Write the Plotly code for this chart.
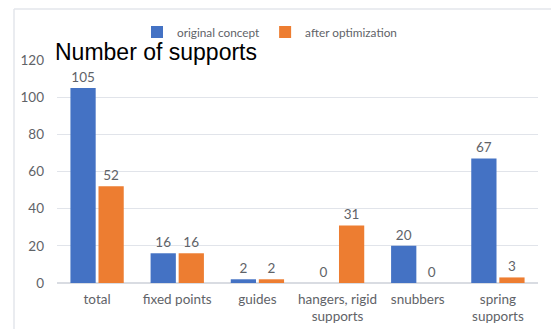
import plotly.graph_objects as go

categories = ["total", "fixed points", "guides", "hangers, rigid<br>supports", "snubbers", "spring<br>supports"]
original_concept = [105, 16, 2, 0, 20, 67]
after_optimization = [52, 16, 2, 31, 0, 3]
y_ticks = [0, 20, 40, 60, 80, 100, 120]

W, H = 551, 329
ML, MR, MT, MB = 57, 13, 60, 46
pw, ph = W - ML - MR, H - MT - MB

def px_x(x):
    return (x - ML) / pw

def px_y(y):
    return 1 - (y - MT) / ph

gray = "#5f6368"
font_main = "Lato"

fig = go.Figure()
fig.add_trace(go.Bar(
    name="original concept", x=categories, y=original_concept,
    marker=dict(color="#4472C4", line=dict(width=0)),
    text=original_concept, textposition="outside", cliponaxis=False,
    textfont=dict(family=font_main, size=13.5, color=gray),
))
fig.add_trace(go.Bar(
    name="after optimization", x=categories, y=after_optimization,
    marker=dict(color="#ED7D31", line=dict(width=0)),
    text=after_optimization, textposition="outside", cliponaxis=False,
    textfont=dict(family=font_main, size=13.5, color=gray),
))

fig.update_layout(
    width=W, height=H,
    margin=dict(l=ML, r=MR, t=MT, b=MB, autoexpand=False),
    paper_bgcolor="white", plot_bgcolor="white",
    barmode="group", bargap=0.3, bargroupgap=0.1,
    showlegend=True,
    legend=dict(orientation="h", x=px_x(137), xanchor="left",
                y=px_y(32), yanchor="middle",
                font=dict(family=font_main, size=11.8, color=gray),
                itemwidth=30, tracegroupgap=0, bgcolor="rgba(0,0,0,0)"),
    uniformtext=dict(mode=False),
)
fig.update_xaxes(showgrid=False, showline=False, ticks="", automargin=False,
                 ticklabelstandoff=6,
                 tickfont=dict(family=font_main, size=13.5, color=gray))
fig.update_yaxes(range=[0, 120], tickvals=y_ticks, showgrid=True, automargin=False,
                 gridcolor="#e1e4ea", gridwidth=1, zeroline=True,
                 zerolinecolor="#d9dce2", zerolinewidth=1.5, showline=False,
                 ticks="", ticklabelstandoff=12,
                 tickfont=dict(family=font_main, size=13.5, color=gray))

# chart frame edges
frame = "#e3e6eb"
fig.add_shape(type="line", xref="paper", yref="paper",
              x0=px_x(14), x1=px_x(14), y0=px_y(9), y1=px_y(H + 5),
              line=dict(color=frame, width=1.5))
fig.add_shape(type="line", xref="paper", yref="paper",
              x0=px_x(14), x1=px_x(W + 5), y0=px_y(9), y1=px_y(9),
              line=dict(color=frame, width=1.5))

fig.add_annotation(text="Number of supports", xref="paper", yref="paper",
                   x=px_x(53), xanchor="left", y=px_y(52), yanchor="middle",
                   showarrow=False,
                   font=dict(family="Liberation Sans", size=23, color="black"))

fig.write_html("out.html")
